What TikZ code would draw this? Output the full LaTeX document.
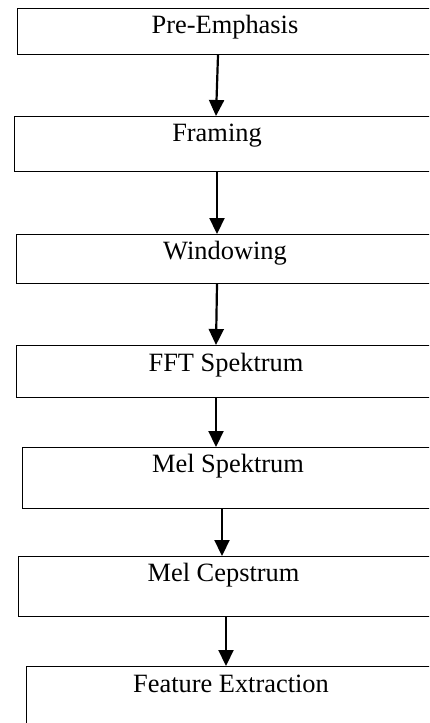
\documentclass[tikz,border=0pt]{standalone}
\usepackage{fontspec}
\setmainfont{Liberation Serif}
\usetikzlibrary{arrows.meta}

\begin{document}
\begin{tikzpicture}[x=1pt,y=-1pt,
  stage/.style={draw=black, line width=1.2pt, rectangle, anchor=north west,
                inner sep=0pt, minimum width=440pt},
  caption/.style={anchor=base, inner sep=0pt,
                  font=\fontsize{26.4}{30}\selectfont},
  flow/.style={draw=black, line width=2.2pt,
               -{Triangle[width=15pt,length=16pt]}}]
  \useasboundingbox (0,0) rectangle (429,723);
  \clip (0,0) rectangle (429,723);

  % processing stages (boxes run past the right margin)
  \node[stage, minimum height=46pt] (pre)  at (17,8)   {};
  \node[stage, minimum height=55pt] (frm)  at (14,116) {};
  \node[stage, minimum height=49pt] (win)  at (16,234) {};
  \node[stage, minimum height=52pt] (fft)  at (16,345) {};
  \node[stage, minimum height=61pt] (mel)  at (22,447) {};
  \node[stage, minimum height=60pt] (cep)  at (18,556) {};
  \node[stage, minimum height=80pt] (feat) at (26,666) {};

  % stage titles
  \node[caption] (tpre)  at (225,33)   {Pre-Emphasis};
  \node[caption] (tfrm)  at (217,141)  {Framing};
  \node[caption] (twin)  at (225,259)  {Windowing};
  \node[caption] (tfft)  at (226,371)  {FFT Spektrum};
  \node[caption] (tmel)  at (228,472)  {Mel Spektrum};
  \node[caption] (tcep)  at (223.5,581) {Mel Cepstrum};
  \node[caption] (tfeat) at (231,692)  {Feature Extraction};

  % flow between stages
  \draw[flow] (pre.south -| 218,0) -- (frm.north -| 216,0);
  \draw[flow] (frm.south -| 217,0) -- (win.north -| 217,0);
  \draw[flow] (win.south -| 217,0) -- (fft.north -| 216,0);
  \draw[flow] (fft.south -| 216,0) -- (mel.north -| 216,0);
  \draw[flow] (mel.south -| 222,0) -- (cep.north -| 222,0);
  \draw[flow] (cep.south -| 226,0) -- (feat.north -| 226,0);
\end{tikzpicture}
\end{document}
